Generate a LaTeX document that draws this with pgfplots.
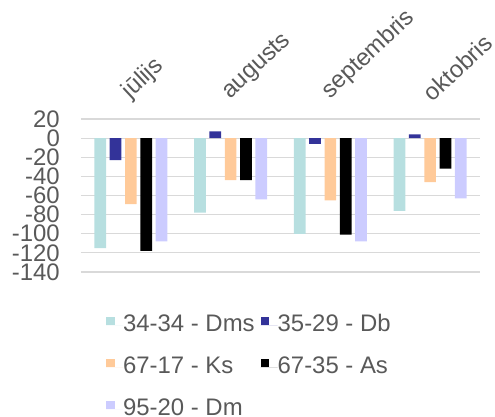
\documentclass[border=0pt]{standalone}
\usepackage{pgfplots}
\pgfplotsset{compat=1.18}
\usepackage{fontspec}
\setmainfont{Liberation Sans}
\definecolor{cDms}{HTML}{B7DFE0}
\definecolor{cDb}{HTML}{333399}
\definecolor{cKs}{HTML}{FFCA99}
\definecolor{cAs}{HTML}{000000}
\definecolor{cDm}{HTML}{CCCCFF}
\definecolor{txtgray}{HTML}{595959}
\definecolor{gridgray}{HTML}{D9D9D9}
\begin{document}
\begin{tikzpicture}
\useasboundingbox (-81bp,-145bp) rectangle (414bp,272bp);
\begin{axis}[
  at={(0,0)}, anchor=south west,
  scale only axis, width=399bp, height=153bp,
  ymin=-140, ymax=20, ytick={-140,-120,...,20},
  xmin=-0.5, xmax=3.5, xtick={0,1,2,3},
  xticklabels={jūlijs,augusts,septembris,oktobris},
  xticklabel pos=upper,
  ybar=3.6bp, bar width=11.7bp,
  axis line style={draw=none}, major tick length=0pt,
  ymajorgrids, grid style={color=gridgray, line width=1.2bp},
  /pgf/number format/assume math mode=true,
  tick label style={font=\fontsize{24}{26}\selectfont, text=txtgray},
  yticklabel style={inner sep=0pt, xshift=-21bp, anchor=east},
  xticklabel style={xshift=3bp, yshift=16bp, rotate=43, anchor=south west, inner sep=0pt},
  legend style={at={(0.055,-0.262)}, anchor=north west, draw=none, fill=none,
    font=\fontsize{24}{26}\selectfont, text=txtgray,
    nodes={inner sep=0pt, text height=17bp, text depth=5bp},
    row sep=20bp,
    /tikz/every even column/.append style={column sep=6bp}},
  legend columns=2,
  legend cell align=left,
  legend image code/.code={
    \fill[#1, draw=none] (0bp,0bp) rectangle (8.6bp,8.6bp);
    \path (0bp,0bp) -- (17bp,0bp);
  },
]
\addplot[fill=cDms, draw=none] coordinates {(0,-115) (1,-78) (2,-100) (3,-76)};
\addplot[fill=cDb, draw=none] coordinates {(0,-23) (1,7) (2,-6) (3,4)};
\addplot[fill=cKs, draw=none] coordinates {(0,-69) (1,-44) (2,-65) (3,-46)};
\addplot[fill=cAs, draw=none] coordinates {(0,-118) (1,-44) (2,-101) (3,-32)};
\addplot[fill=cDm, draw=none] coordinates {(0,-108) (1,-64) (2,-108) (3,-63)};
\legend{34-34 - Dms, 35-29 - Db, 67-17 - Ks, 67-35 - As, 95-20 - Dm}
\end{axis}
\end{tikzpicture}
\end{document}
